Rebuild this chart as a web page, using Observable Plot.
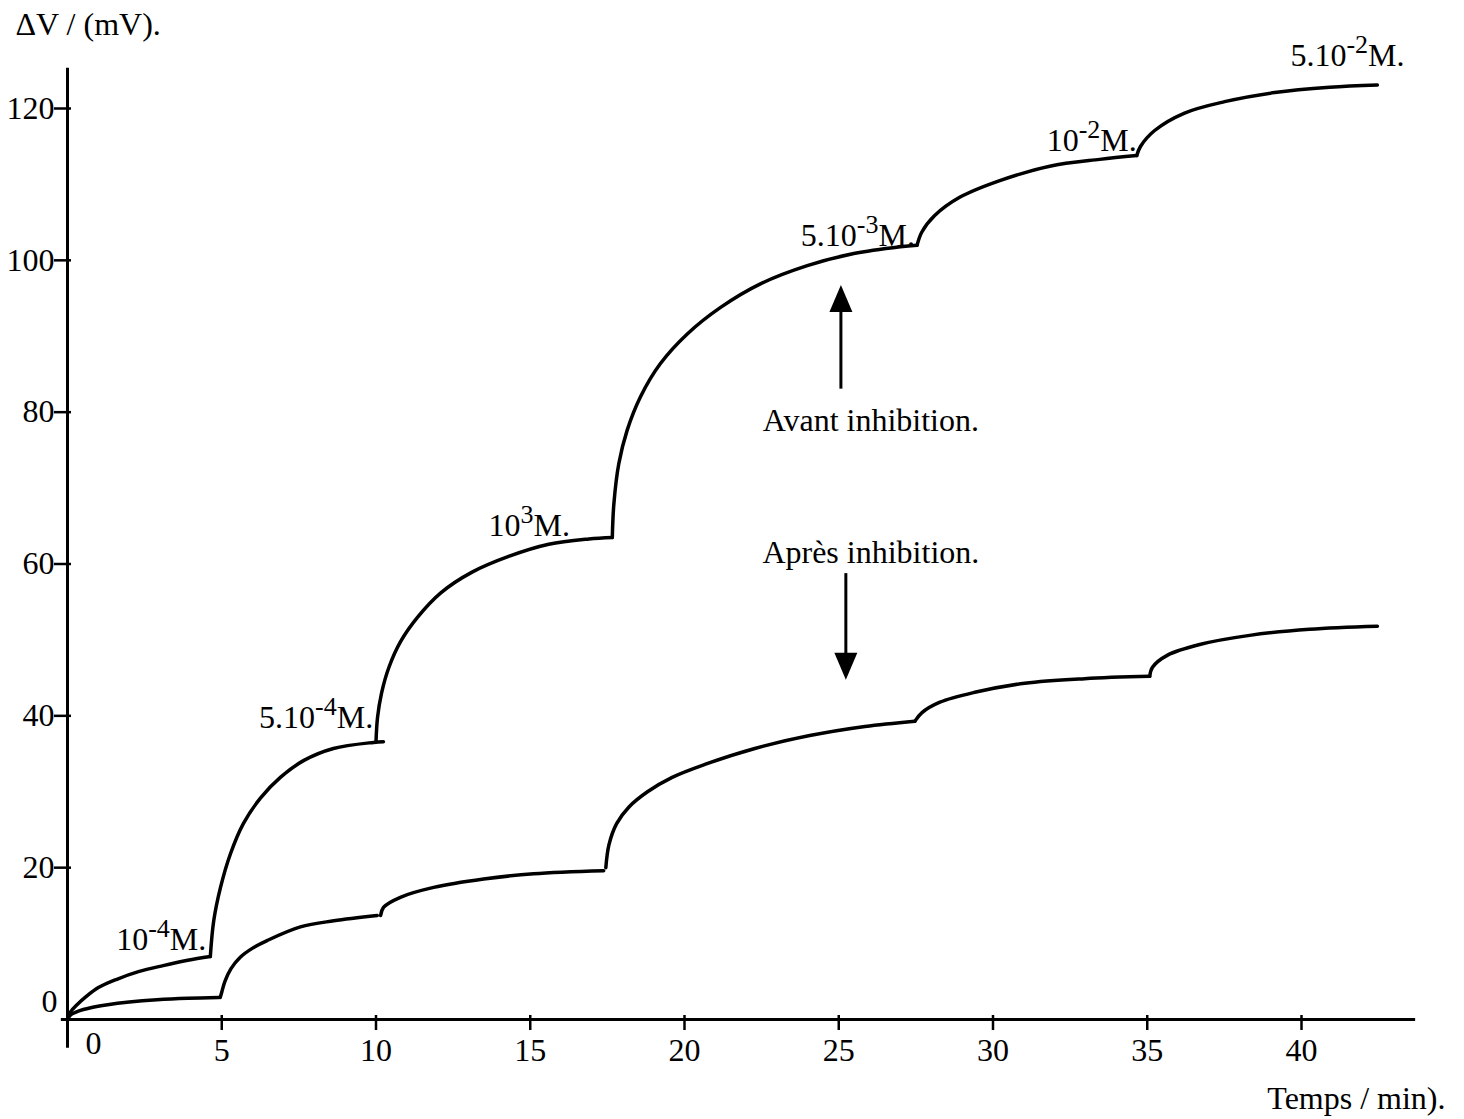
<!DOCTYPE html>
<html><head><meta charset="utf-8">
<script src="https://cdn.jsdelivr.net/npm/d3@7"></script>
<script src="https://cdn.jsdelivr.net/npm/@observablehq/plot@0.6"></script>
<style>body{margin:0;background:#fff}</style>
</head><body><div id="chart"></div>
<script>
// ---- data ----
const xTicks = [5, 10, 15, 20, 25, 30, 35, 40];
const yTicks = [20, 40, 60, 80, 100, 120];
const xAxisExtent = [-0.2, 43.7];
const yAxisExtent = [-3.8, 125.3];
const yTitle = "ΔV / (mV).";
const xTitle = "Temps / min).";

// "Avant inhibition." curve, one array of [time (min), ΔV (mV)] per concentration step
const avantSteps = [
  [[0,0],[0.10,1.0],[0.3,1.9],[0.6,3.0],[1.0,4.2],[1.6,5.3],[2.3,6.3],[3.1,7.1],[3.9,7.8],[4.63,8.3]],
  [[4.63,8.3],[4.74,13.0],[4.96,17.4],[5.28,21.8],[5.70,25.8],[6.26,29.2],[6.90,31.9],[7.65,34.1],[8.62,35.7],[9.92,36.5],[10.24,36.6]],
  [[10.0,36.6],[10.05,39.8],[10.18,43.0],[10.42,46.4],[10.80,49.8],[11.35,53.0],[12.1,56.2],[13.1,58.9],[14.3,61.0],[15.6,62.6],[16.9,63.3],[17.66,63.5]],
  [[17.66,63.5],[17.71,67.9],[17.87,73.2],[18.14,77.6],[18.57,82.0],[19.22,86.4],[20.09,90.3],[21.17,93.8],[22.46,96.9],[23.98,99.3],[25.49,100.9],[27.0,101.8],[27.54,102.0]],
  [[27.54,102.0],[27.69,103.7],[28.11,105.9],[28.92,108.3],[30.22,110.5],[31.84,112.4],[33.46,113.3],[34.66,113.8]],
  [[34.66,113.8],[34.78,115.0],[35.24,117.1],[36.21,119.4],[37.51,120.9],[39.13,122.1],[40.91,122.8],[42.46,123.1]]
];
// "Après inhibition." curve
const apresSteps = [
  [[0,0],[0.1,0.6],[0.35,1.1],[0.75,1.55],[1.3,1.95],[2.0,2.3],[2.9,2.6],[3.9,2.8],[4.9,2.9]],
  [[4.95,2.9],[5.0,3.6],[5.1,5.0],[5.3,6.7],[5.6,8.2],[6.0,9.4],[6.47,10.4],[7.55,12.2],[8.63,13.0],[10.04,13.7]],
  [[10.15,13.7],[10.25,14.8],[10.79,16.1],[11.87,17.4],[13.49,18.5],[15.11,19.2],[17.38,19.6]],
  [[17.45,20.0],[17.55,23.0],[17.8,25.8],[18.2,28.0],[18.8,30.0],[19.6,31.9],[20.66,33.6],[22.28,35.7],[24.06,37.4],[25.85,38.6],[27.47,39.3]],
  [[27.47,39.3],[27.69,40.4],[28.28,41.8],[29.41,43.1],[31.03,44.3],[32.97,44.9],[35.08,45.2]],
  [[35.08,45.2],[35.17,46.4],[35.66,48.0],[36.70,49.4],[38.32,50.6],[40.26,51.4],[42.46,51.8]]
];

// concentration labels (right end at time t, centred at ΔV v)
const concT    = [4.5, 9.91, 16.29, 27.47, 34.66, 43.34];
const concV    = [10.5, 39.7, 65.0, 103.3, 115.8, 127.0];
const concBase = ["10", "5.10", "10", "5.10", "10", "5.10"];
const concExp  = ["-4", "-4", "3", "-3", "-2", "-2"];
const concTail = ["M.", "M.", "M.", "M.", "M.", "M."];

// annotations
const noteText = ["Avant inhibition.", "Après inhibition."];
const noteT = [26.04, 26.04];
const noteV = [78.9, 61.5];
const arrowT     = [25.07, 25.23];
const arrowTail  = [83.1, 58.8];
const arrowHead  = [94.9, 46.6];
const arrowDir   = [0, 180];

// ---- build tables ----
const rows = [];
[["avant", avantSteps], ["apres", apresSteps]].forEach(([name, steps]) =>
  steps.forEach((pts, s) => pts.forEach(([t, v]) => rows.push({curve: name, step: s, t, v}))));
const concs = concT.map((t, i) => ({t, v: concV[i], label: concBase[i] + "^" + concExp[i] + "^" + concTail[i]}));
const notes = noteText.map((text, i) => ({text, t: noteT[i], v: noteV[i]}));
const arrows = arrowT.map((t, i) => ({t, tail: arrowTail[i], head: arrowHead[i], rot: arrowDir[i]}));

const headSymbol = {draw(ctx) { ctx.moveTo(0, -14); ctx.lineTo(11.5, 13); ctx.lineTo(-11.5, 13); ctx.closePath(); }};

const FS = 32;
const chart = Plot.plot({
  width: 1464, height: 1119,
  marginTop: 0, marginRight: 0, marginBottom: 0, marginLeft: 0,
  x: {domain: [0, 40], range: [67, 1301], axis: null},
  y: {domain: [0, 120], range: [1019, 108], axis: null},
  style: {fontFamily: "'Liberation Serif', 'Times New Roman', serif", background: "#fff", color: "#000"},
  marks: [
    // axes lines
    Plot.ruleY([0], {x1: xAxisExtent[0], x2: xAxisExtent[1], strokeWidth: 3}),
    Plot.ruleX([0], {y1: yAxisExtent[0], y2: yAxisExtent[1], strokeWidth: 3}),
    // tick marks crossing the axes
    Plot.ruleY(yTicks, {y: d => d, x1: 0, x2: 0, insetLeft: -13, insetRight: -4, strokeWidth: 2.5}),
    Plot.ruleX(xTicks, {x: d => d, y1: 0, y2: 0, insetTop: -4, insetBottom: -11, strokeWidth: 2.5}),
    // tick labels
    Plot.text(yTicks, {x: 0, y: d => d, text: d => String(d), dx: -13, textAnchor: "end", fontSize: FS}),
    Plot.text([0], {x: 0, y: 0, text: d => String(d), dx: -10, dy: -18, textAnchor: "end", fontSize: FS}),
    Plot.text(xTicks, {x: d => d, y: 0, text: d => String(d), dy: 31, fontSize: FS}),
    Plot.text([0], {x: 0, y: 0, text: d => String(d), dx: 26, dy: 24, fontSize: FS}),
    // axis titles
    Plot.text([yTitle], {frameAnchor: "top-left", text: d => d, dx: 15, dy: 24, textAnchor: "start", lineAnchor: "middle", fontSize: FS}),
    Plot.text([xTitle], {frameAnchor: "bottom-right", text: d => d, dx: -19, dy: -21, textAnchor: "end", lineAnchor: "middle", fontSize: FS}),
    // curves
    Plot.line(rows, {x: "t", y: "v", z: d => d.curve + d.step, curve: "catmull-rom", stroke: "#000", strokeWidth: 3.5, strokeLinecap: "round"}),
    // concentration labels
    Plot.text(concs, {x: "t", y: "v", text: "label", textAnchor: "end", fontSize: FS}),
    // annotations
    Plot.text(notes, {x: "t", y: "v", text: "text", fontSize: FS}),
    Plot.link(arrows, {x1: "t", x2: "t", y1: "tail", y2: "head", strokeWidth: 3}),
    Plot.dot(arrows, {x: "t", y: "head", symbol: headSymbol, rotate: "rot", fill: "#000", stroke: "none"})
  ]
});

// superscripts for concentration labels
d3.select(chart).selectAll("text").each(function () {
  const txt = this.textContent;
  if (!txt.includes("^")) return;
  const [base, exp, tail] = txt.split("^");
  const el = d3.select(this);
  el.text(null);
  el.append("tspan").text(base);
  el.append("tspan").attr("dy", -13).attr("font-size", 26).text(exp);
  el.append("tspan").attr("dy", 13).text(tail);
});

document.getElementById("chart").appendChild(chart);
</script>
</body></html>
